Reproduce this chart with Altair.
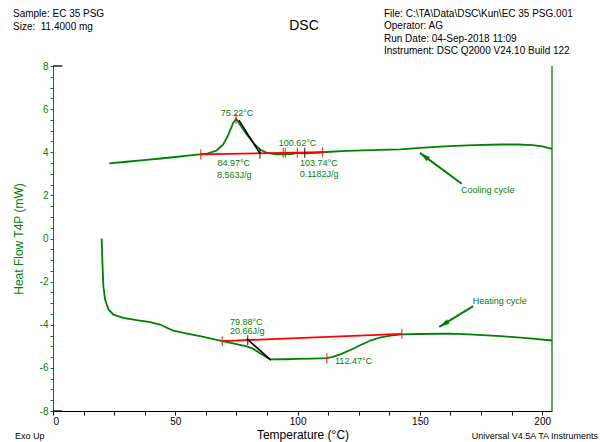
import math
import altair as alt
import pandas as pd

# ---------------- data ----------------
cool_T = [23, 30, 37, 44, 50, 55, 60, 62.8, 66.9, 69.6, 71.7, 73.7, 74.9, 76.4, 79.2, 81.9,
          84.6, 87.4, 91.4, 95, 98, 99.8, 101.5, 104, 110, 120, 130, 142, 150, 162, 172,
          183, 190, 196, 200, 204]
cool_HF = [3.48, 3.56, 3.63, 3.71, 3.78, 3.84, 3.9, 3.93, 4.08, 4.36, 4.82, 5.37, 5.54, 5.29,
           4.82, 4.44, 4.13, 3.97, 3.9, 3.9, 3.93, 3.97, 3.95, 3.95, 4.0, 4.06, 4.1, 4.13,
           4.2, 4.28, 4.33, 4.36, 4.36, 4.33, 4.27, 4.16]

heat_T = [19.9, 20.2, 20.6, 21.3, 22.7, 24.7, 28.7, 34.2, 39.7, 43.8, 46.5, 49.2, 55.3, 60.1,
          69.2, 75, 79.2, 81.9, 85, 88.7, 95, 100, 106, 111.9, 114, 118, 122, 126, 130, 134,
          138, 142.6, 150, 162, 170, 183, 195, 204]
heat_HF = [0.0, -1.13, -2.21, -2.83, -3.29, -3.53, -3.68, -3.79, -3.88, -3.99, -4.14, -4.27,
           -4.42, -4.53, -4.76, -4.9, -5.0, -5.12, -5.35, -5.61, -5.6, -5.58, -5.57, -5.55,
           -5.5, -5.35, -5.15, -4.93, -4.72, -4.58, -4.5, -4.45, -4.43, -4.41, -4.45, -4.53,
           -4.63, -4.73]

# integration baselines (red)
cool_base_T = [60.4, 110.2]
cool_base_HF = [3.9, 4.0]
heat_base_T = [69.2, 142.6]
heat_base_HF = [-4.76, -4.42]

# tangent (onset) lines (black)
cool_tan_T = [76.0, 84.6]
cool_tan_HF = [5.49, 3.94]
heat_tan_T = [79.2, 89.1]
heat_tan_HF = [-4.65, -5.64]

# limit ticks
red_tick_T = [60.4, 94.1, 95.0, 99.9, 110.2, 74.8, 69.2, 142.6, 111.9]
red_tick_HF = [3.9, 3.97, 3.97, 3.98, 4.0, 5.54, -4.76, -4.42, -5.55]
black_tick_T = [84.6, 102.9, 79.6]
black_tick_HF = [3.94, 3.98, -4.72]

# annotation labels
ann_text = ["75.22°C", "84.97°C", "8.563J/g", "100.62°C", "103.74°C", "0.1182J/g",
            "79.88°C", "20.66J/g"]
ann_T = [75.2, 73.9, 74.1, 99.95, 108.7, 108.8, 79.0, 79.4]
ann_HF = [5.84, 3.51, 2.95, 4.44, 3.51, 3.01, -3.88, -4.3]
left_text = ["112.47°C", "Cooling cycle", "Heating cycle"]
left_T = [115.3, 166.8, 171.6]
left_HF = [-5.66, 2.27, -2.92]

# arrows: tail -> head
arrow_tail_T = [167.1, 171.8]
arrow_tail_HF = [2.54, -3.14]
arrow_head_T = [150.0, 157.9]
arrow_head_HF = [3.97, -4.10]

header_left = ["Sample: EC 35 PSG", "Size:\u00a0 11.4000 mg"]
header_right = ["File: C:\\TA\\Data\\DSC\\Kun\\EC 35 PSG.001", "Operator: AG",
                "Run Date: 04-Sep-2018 11:09", "Instrument: DSC Q2000 V24.10 Build 122"]

# ---------------- chart ----------------
GREEN = "#008000"
FONT = "Liberation Sans"
W, H = 499, 345
XMIN, XMAX, YMIN, YMAX = 0, 204, -8, 8
pxx = W / (XMAX - XMIN)
pxy = H / (YMAX - YMIN)

xs = alt.Scale(domain=[XMIN, XMAX], nice=False, zero=False)
ys = alt.Scale(domain=[YMIN, YMAX], nice=False, zero=False)

xaxis = alt.Axis(values=[i * 12.5 for i in range(17)],
                 labelExpr="datum.value % 50 === 0 ? '' + datum.value : ''",
                 grid=False, domainColor="black", tickColor="black", tickSize=4,
                 labelColor="black", labelFontSize=10, labelFont=FONT, labelPadding=1,
                 title="Temperature (°C)", titleFontSize=12, titleFontWeight="normal",
                 titleFont=FONT, titleColor="black", titleBaseline="top", titleY=18)
yaxis = alt.Axis(values=[-8 + 0.5 * i for i in range(33)],
                 labelExpr="datum.value % 2 === 0 ? '' + datum.value : ''",
                 grid=False, domainColor=GREEN, tickColor=GREEN, tickSize=3,
                 labelColor=GREEN, labelFontSize=10, labelFont=FONT, labelPadding=2,
                 title="Heat Flow T4P (mW)", titleFontSize=12, titleFontWeight="normal",
                 titleFont=FONT, titleColor=GREEN, titleBaseline="middle",
                 titleX=-35, titleY=H / 2)

X = alt.X("T:Q", scale=xs, axis=xaxis)
Y = alt.Y("HF:Q", scale=ys, axis=yaxis)


def lines_df(groups):
    rows = []
    for g, (T, HF) in enumerate(groups):
        for i, (t, h) in enumerate(zip(T, HF)):
            rows.append({"g": g, "i": i, "T": t, "HF": h})
    return pd.DataFrame(rows)


def line_layer(groups, color, width):
    return alt.Chart(lines_df(groups)).mark_line(color=color, strokeWidth=width).encode(
        x=X, y=Y, detail="g:N", order="i:Q")


curves = line_layer([(cool_T, cool_HF), (heat_T, heat_HF)], GREEN, 1.8)
baselines = line_layer([(cool_base_T, cool_base_HF), (heat_base_T, heat_base_HF)], "red", 1.8)
tangents = line_layer([(cool_tan_T, cool_tan_HF), (heat_tan_T, heat_tan_HF)], "black", 1.6)

red_ticks = alt.Chart(pd.DataFrame({"T": red_tick_T, "HF": red_tick_HF})).mark_tick(
    color="red", orient="vertical", size=10, thickness=1.3).encode(x=X, y=Y)
black_ticks = alt.Chart(pd.DataFrame({"T": black_tick_T, "HF": black_tick_HF})).mark_tick(
    color="black", orient="vertical", size=10, thickness=1.3).encode(x=X, y=Y)

ann = alt.Chart(pd.DataFrame({"T": ann_T, "HF": ann_HF, "t": ann_text})).mark_text(
    color=GREEN, font=FONT, fontSize=9, align="center", baseline="middle").encode(
    x=X, y=Y, text="t:N")
ann_l = alt.Chart(pd.DataFrame({"T": left_T, "HF": left_HF, "t": left_text})).mark_text(
    color=GREEN, font=FONT, fontSize=9, align="left", baseline="middle").encode(
    x=X, y=Y, text="t:N")

# arrows
arrow_groups = [([arrow_tail_T[k], arrow_head_T[k]], [arrow_tail_HF[k], arrow_head_HF[k]])
                for k in range(2)]
arrow_lines = line_layer(arrow_groups, GREEN, 2)
angles = []
for k in range(2):
    dx = (arrow_head_T[k] - arrow_tail_T[k]) * pxx
    dy = -(arrow_head_HF[k] - arrow_tail_HF[k]) * pxy
    ang = math.degrees(math.atan2(dx, -dy)) % 360
    angles.append(ang)
heads = alt.Chart(pd.DataFrame({"T": arrow_head_T, "HF": arrow_head_HF, "a": angles})).mark_point(
    shape="M0,0L0.55,2.2L-0.55,2.2Z", filled=True, color=GREEN, size=90, opacity=1).encode(
    x=X, y=Y, angle=alt.Angle("a:Q", scale=None))

# frame pieces
right_border = alt.Chart(pd.DataFrame({"T": [XMAX], "HF": [YMIN], "HF2": [YMAX]})).mark_rule(
    color=GREEN, strokeWidth=1.3).encode(x=X, y=Y, y2="HF2:Q")
corner = alt.Chart(pd.DataFrame({"T": [0, 0], "T2": [3.8, 3.8], "HF": [YMAX, YMIN]})).mark_rule(
    color="black", strokeWidth=1.3).encode(x=X, x2="T2:Q", y=Y)


def txt(lines, x, y0, dy, align, size=10, color="black"):
    layers = []
    for k, s in enumerate(lines):
        layers.append(alt.Chart(pd.DataFrame({"t": [s]})).mark_text(
            font=FONT, fontSize=size, align=align, baseline="middle", color=color).encode(
            text="t:N", x=alt.value(x), y=alt.value(y0 + k * dy)))
    return layers


hdr = (txt(header_left, -40, -52, 13, "left")
       + txt(["DSC"], 251, -40, 0, "center", size=14)
       + txt(header_right, 331, -52, 12.3, "left")
       + txt(["Exo Up"], -38, 370, 0, "left", size=9)
       + txt(["Universal V4.5A TA Instruments"], 545, 370, 0, "right", size=9))

chart = alt.layer(curves, baselines, tangents, red_ticks, black_ticks, arrow_lines, heads,
                  ann, ann_l, right_border, corner, *hdr).properties(
    width=W, height=H,
    autosize=alt.AutoSizeParams(type="none"),
    padding={"left": 45, "top": 58, "right": 47, "bottom": 36},
    background="white",
).configure_view(stroke=None)

chart.save("out.html", embed_options={"renderer": "svg", "actions": False})
